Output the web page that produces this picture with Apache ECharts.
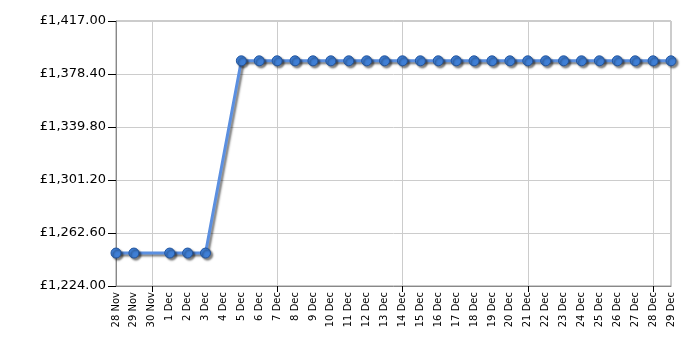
<!DOCTYPE html>
<html><head><meta charset="utf-8">
<script src="https://cdn.jsdelivr.net/npm/echarts@6/dist/echarts.min.js"></script>
<style>html,body{margin:0;padding:0;background:#fff}#c{width:700px;height:350px}</style>
</head><body><div id="c"></div>
<script>
const categories = ['28 Nov','29 Nov','30 Nov','1 Dec','2 Dec','3 Dec','4 Dec','5 Dec','6 Dec','7 Dec','8 Dec','9 Dec','10 Dec','11 Dec','12 Dec','13 Dec','14 Dec','15 Dec','16 Dec','17 Dec','18 Dec','19 Dec','20 Dec','21 Dec','22 Dec','23 Dec','24 Dec','25 Dec','26 Dec','27 Dec','28 Dec','29 Dec'];
const prices = [1248,1248,null,1248,1248,1248,null,1388,1388,1388,1388,1388,1388,1388,1388,1388,1388,1388,1388,1388,1388,1388,1388,1388,1388,1388,1388,1388,1388,1388,1388,1388];
const yMin = 1224, yMax = 1417, yStep = 38.6;
const weekTicks = [2,9,16,23,30];

const chart = echarts.init(document.getElementById('c'));
const fmt = v => '£' + v.toLocaleString('en-GB',{minimumFractionDigits:2,maximumFractionDigits:2});
chart.setOption({
  animation:false,
  grid:{left:116,right:29,top:21,bottom:64,show:true,borderColor:'#999',borderWidth:1},
  xAxis:{type:'category',data:categories,boundaryGap:false,
    axisLine:{lineStyle:{color:'#888',width:1}},
    axisTick:{show:true,length:6,lineStyle:{color:'#000'},interval:(i)=>weekTicks.includes(i)},
    splitLine:{show:true,lineStyle:{color:'#ccc'},interval:(i)=>weekTicks.includes(i)},
    axisLabel:{rotate:90,interval:0,fontFamily:'DejaVu Sans',fontSize:10,color:'#000',margin:6}},
  yAxis:{type:'value',min:yMin,max:yMax,interval:yStep,
    axisLine:{show:true,lineStyle:{color:'#888'}},
    axisTick:{show:true,length:8,lineStyle:{color:'#000'}},
    splitLine:{lineStyle:{color:'#ccc'}},
    axisLabel:{formatter:fmt,fontFamily:'DejaVu Sans',fontSize:13,color:'#000',margin:10}},
  series:[{type:'line',data:prices,connectNulls:true,symbol:'circle',symbolSize:10,
    lineStyle:{color:'#5b8fe0',width:3,shadowColor:'rgba(0,0,0,0.5)',shadowOffsetX:2,shadowOffsetY:2,shadowBlur:2},
    itemStyle:{color:'#3f7fd6',borderColor:'#22549c',borderWidth:1,shadowColor:'rgba(0,0,0,0.5)',shadowOffsetX:2,shadowOffsetY:2,shadowBlur:2}}]
});
</script></body></html>
